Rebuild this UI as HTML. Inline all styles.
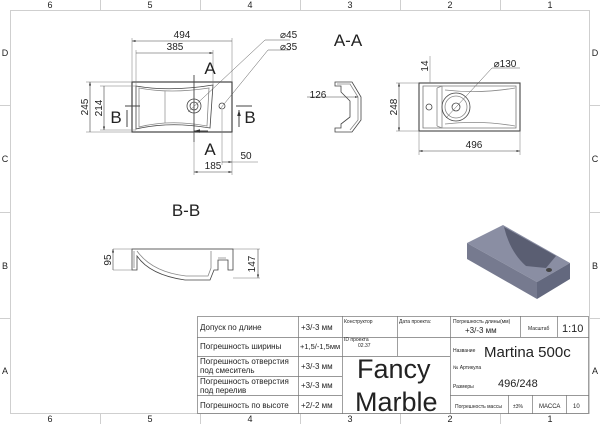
<!DOCTYPE html>
<html><head><meta charset="utf-8"><style>
html,body{margin:0;padding:0;background:#fff;width:600px;height:424px;overflow:hidden}
svg{display:block}
text{font-family:"Liberation Sans",sans-serif;fill:#222}
.t{font-family:"Liberation Sans","DejaVu Sans",sans-serif;fill:#333}
</style></head><body>
<svg width="600" height="424" viewBox="0 0 600 424" xmlns="http://www.w3.org/2000/svg">
<defs>
<marker id="ar" viewBox="0 0 10 10" refX="10" refY="5" markerWidth="6" markerHeight="6" orient="auto-start-reverse"><path d="M0,2 L10,5 L0,8z" fill="#333"/></marker>
</defs>
<g stroke="#cfcfcf" fill="none" stroke-width="1">
<rect x="10.5" y="10.5" width="579" height="403"/>
<path d="M100.5 0V10M200.5 0V10M300.5 0V10M400.5 0V10M500.5 0V10M100.5 414V424M200.5 414V424M300.5 414V424M400.5 414V424M500.5 414V424M0 105.5H10M0 212.5H10M0 318.5H10M590 105.5H600M590 212.5H600M590 318.5H600"/>
</g>
<g font-size="9" fill="#444" text-anchor="middle">
<text x="50" y="8">6</text><text x="150" y="8">5</text><text x="250" y="8">4</text><text x="350" y="8">3</text><text x="450" y="8">2</text><text x="550" y="8">1</text>
<text x="50" y="422">6</text><text x="150" y="422">5</text><text x="250" y="422">4</text><text x="350" y="422">3</text><text x="450" y="422">2</text><text x="550" y="422">1</text>
<text x="5" y="56">D</text><text x="5" y="162">C</text><text x="5" y="269">B</text><text x="5" y="374">A</text>
<text x="595" y="56">D</text><text x="595" y="162">C</text><text x="595" y="269">B</text><text x="595" y="374">A</text>
</g>

<g stroke="#444" fill="none" stroke-width="0.8">
<rect x="132" y="82" width="100" height="50" stroke-width="1.2"/>
<path d="M136 86 Q170 92 213 85 L210 128 Q170 121 136 129 Z"/>
<path d="M139 88 Q170 94 209 88 L207 126 Q170 119 139 127 Z" stroke="#888"/>
<path d="M165 91V123" stroke="#999"/>
<circle cx="194" cy="106" r="7"/><circle cx="194" cy="106" r="4"/>
<circle cx="222" cy="106" r="3"/>
<path d="M132 82V38M232 82V38M136 86V50M213 85V50M132 82H86M132 132H86M136 86H100M136 130H100" stroke="#777" stroke-width="0.5"/>
<path d="M132 41H232M136 53H213" stroke-width="0.6" marker-start="url(#ar)" marker-end="url(#ar)"/>
<path d="M90 82V132M104 86V130" stroke-width="0.6" marker-start="url(#ar)" marker-end="url(#ar)"/>
<path d="M188 112L265 40H290M220 109L268 50H290" stroke="#555" stroke-width="0.5"/>
<path d="M194 75V142" stroke-width="0.9"/>
<path d="M208 82H194M208 131H194" stroke-width="1" marker-end="url(#ar)"/>
<path d="M125 106H140M236 106H252" stroke-width="0.9"/>
<path d="M127 127V110M239 127V110" stroke-width="1" marker-end="url(#ar)"/>
<path d="M194 132V175M232 132V175M222 110V165M232 162H258" stroke="#777" stroke-width="0.5"/>
<path d="M194 172H232" stroke-width="0.6" marker-start="url(#ar)" marker-end="url(#ar)"/>
<path d="M222 162H232" stroke-width="0.6" marker-end="url(#ar)"/>
</g>
<g font-size="10" text-anchor="middle">
<text x="182" y="38">494</text><text x="175" y="50">385</text>
<text x="213" y="169">185</text><text x="246" y="159">50</text>
<text x="280" y="38" text-anchor="start">⌀45</text><text x="280" y="50" text-anchor="start">⌀35</text>
<text transform="translate(88,107) rotate(-90)">245</text>
<text transform="translate(102,108) rotate(-90)">214</text>
</g>
<g font-size="17" text-anchor="middle">
<text x="210" y="74">A</text><text x="210" y="155">A</text>
<text x="116" y="123">B</text><text x="250" y="123">B</text>
<text x="348" y="46">A-A</text>
<text x="186" y="216">B-B</text>
</g>

<g stroke="#444" fill="none" stroke-width="0.8">
<path d="M335 82H352L361 97V120L352 132H335V128H341V124L350 117V101L341 92V86H335Z"/>
<path d="M337 84H350L358 97V120L350 130" stroke="#888"/>
<path d="M307 97H358" stroke-width="0.5" marker-end="url(#ar)"/>
</g>
<text x="318" y="98" font-size="10" text-anchor="middle">126</text>

<g stroke="#444" fill="none" stroke-width="0.8">
<rect x="419" y="83" width="101" height="48" stroke-width="1.1"/>
<path d="M423 86H516V128H423Z" stroke="#777"/>
<path d="M437 88L442 86M437 126L442 128M442 86V128M437 88V126M445 90Q480 94 515 88M445 124Q480 120 515 126" stroke="#888"/>
<circle cx="456" cy="107" r="14"/><circle cx="456" cy="107" r="11" stroke="#888"/><circle cx="456" cy="107" r="4"/>
<circle cx="429" cy="107" r="3"/>
<path d="M419 83H396M419 131H396M419 131V155M520 131V155M430 83V56" stroke="#777" stroke-width="0.5"/>
<path d="M399 83V131" stroke-width="0.6" marker-start="url(#ar)" marker-end="url(#ar)"/>
<path d="M419 151H520" stroke-width="0.6" marker-start="url(#ar)" marker-end="url(#ar)"/>
<path d="M446 118L492 68H520" stroke="#555" stroke-width="0.5"/>
</g>
<g font-size="10" text-anchor="middle">
<text x="474" y="148">496</text>
<text x="505" y="67">⌀130</text>
<text transform="translate(397,107) rotate(-90)">248</text>
<text transform="translate(428,66) rotate(-90)">14</text>
</g>

<g stroke="#444" fill="none" stroke-width="0.8">
<path d="M113 249H260" stroke="#777" stroke-width="0.5"/>
<path d="M132 249V270H137V256Q150 275 185 280H210L214 270H218V260H228V270H233V249Z"/>
<path d="M134 251V268M137 251Q152 272 186 276H208L211 268V251M218 258H226" stroke="#888"/>
<path d="M113 249V270M258 249V278" stroke-width="0.6" marker-start="url(#ar)" marker-end="url(#ar)"/>
<path d="M113 270H132M233 278H260" stroke="#777" stroke-width="0.5"/>
</g>
<g font-size="10" text-anchor="middle">
<text transform="translate(111,260) rotate(-90)">95</text>
<text transform="translate(255,264) rotate(-90)">147</text>
</g>

<path d="M503 225L467 243L537 282L570 263Z" fill="#8a8ea3"/>
<path d="M504 227L556 256L546 268L526 266Q510 252 504 227Z" fill="#5a5e72"/>
<path d="M467 243L537 282V299L467 259Z" fill="#767a8f"/>
<path d="M537 282L570 263V279L537 299Z" fill="#63687e"/>
<ellipse cx="549" cy="270" rx="3" ry="2" fill="#444"/>

<g stroke="#777" fill="none" stroke-width="0.7">
<rect x="197.5" y="316.5" width="391" height="97"/>
<path d="M298.5 316V414M342.5 316V414M397.5 316V356M450.5 316V414M197 337.5H450M197 356.5H450M197 376.5H342M197 395.5H342M342 356.5H450M450 337.5H589M450 395.5H589M520.5 316V337M557.5 316V337M508.5 395V414M532.5 395V414M566.5 395V414"/>
</g>
<g class="t" font-size="8">
<text x="200" y="330">Допуск по длине</text>
<text x="200" y="349">Погрешность ширины</text>
<text x="200" y="364">Погрешность отверстия</text><text x="200" y="373">под смеситель</text>
<text x="200" y="384">Погрешность отверстия</text><text x="200" y="393">под перелив</text>
<text x="200" y="408">Погрешность по высоте</text>
<text x="301" y="330">+3/-3 мм</text>
<text x="300" y="349" font-size="7.5">+1,5/-1,5мм</text>
<text x="301" y="369">+3/-3 мм</text>
<text x="301" y="388">+3/-3 мм</text>
<text x="301" y="408">+2/-2 мм</text>
<text x="344" y="323" font-size="5">Конструктор</text>
<text x="399" y="323" font-size="5">Дата проекта:</text>
<text x="344" y="341" font-size="5">ID проекта</text><text x="358" y="347" font-size="5">02.37</text>
<text x="453" y="323" font-size="5">Погрешность длины(мм)</text>
<text x="465" y="333">+3/-3 мм</text>
<text x="528" y="330" font-size="5">Масштаб</text>
<text x="562" y="332" font-size="11">1:10</text>
<text x="453" y="352" font-size="5">Название</text>
<text x="484" y="357" font-size="15">Martina 500c</text>
<text x="453" y="369" font-size="5">№ Артикула</text>
<text x="453" y="388" font-size="5">Размеры</text>
<text x="498" y="387" font-size="11">496/248</text>
<text x="455" y="408" font-size="5">Погрешность массы</text>
<text x="513" y="408" font-size="5">±3%</text>
<text x="539" y="408" font-size="6">МАССА</text>
<text x="573" y="408" font-size="6">10</text>
<text x="357" y="378" font-size="27">Fancy</text>
<text x="355" y="411" font-size="27">Marble</text>
</g>
</svg>
</body></html>
